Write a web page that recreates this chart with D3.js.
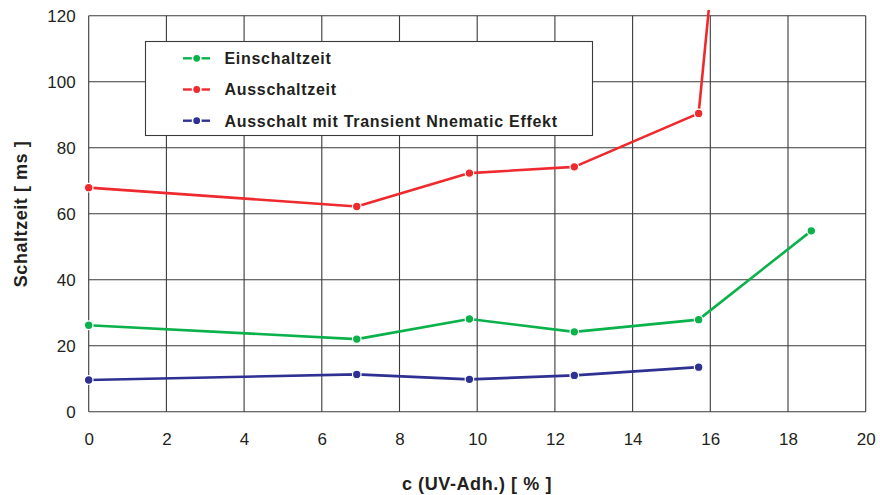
<!DOCTYPE html>
<html>
<head>
<meta charset="utf-8">
<script src="https://cdn.jsdelivr.net/npm/d3@7"></script>
<style>
  html, body { margin: 0; padding: 0; background: #fff; }
  svg { display: block; font-family: "Liberation Sans", Arial, sans-serif; }
</style>
</head>
<body>
<svg id="chart" width="880" height="495"></svg>
<script>
// Concentration of UV adhesive [%]
const concEin = [0, 6.9, 9.8, 12.5, 15.7, 18.6];
const einschaltzeit = [26.2, 22.0, 28.1, 24.2, 27.9, 54.8];

const concAus = [0, 6.9, 9.8, 12.5, 15.7, 18.6];
const ausschaltzeit = [67.9, 62.2, 72.3, 74.2, 90.4, 440];

const concTN = [0, 6.9, 9.8, 12.5, 15.7];
const ausschaltTN = [9.6, 11.3, 9.8, 11.0, 13.5];

const xTicks = [0, 2, 4, 6, 8, 10, 12, 14, 16, 18, 20];
const yTicks = [0, 20, 40, 60, 80, 100, 120];

const seriesNames = ["Einschaltzeit", "Ausschaltzeit", "Ausschalt mit Transient Nnematic Effekt"];
const seriesColors = ["#0bb14b", "#ee2a2e", "#2e3192"];

const series = [
  { name: seriesNames[0], color: seriesColors[0], xs: concEin, ys: einschaltzeit, markerCount: 6 },
  { name: seriesNames[1], color: seriesColors[1], xs: concAus, ys: ausschaltzeit, markerCount: 5 },
  { name: seriesNames[2], color: seriesColors[2], xs: concTN, ys: ausschaltTN, markerCount: 5 }
];

const svg = d3.select("#chart");
const plotLeft = 88.7, plotRight = 865.7, plotTop = 15.7, plotBottom = 411.7;

const x = d3.scaleLinear().domain([0, 20]).range([plotLeft, plotRight]);
const y = d3.scaleLinear().domain([0, 120]).range([plotBottom, plotTop]);

const textColor = "#231f20";
const gridColor = "#3a3a3a";

// grid
const grid = svg.append("g");
grid.selectAll("line.v").data(xTicks).join("line")
  .attr("x1", d => x(d)).attr("x2", d => x(d))
  .attr("y1", plotTop).attr("y2", plotBottom)
  .attr("stroke", gridColor).attr("stroke-width", 1.1);
grid.selectAll("line.h").data(yTicks).join("line")
  .attr("x1", plotLeft).attr("x2", plotRight)
  .attr("y1", d => y(d)).attr("y2", d => y(d))
  .attr("stroke", gridColor).attr("stroke-width", 1.1);

// axes (labels only; grid provides the lines)
const xAxis = d3.axisBottom(x).tickValues(xTicks).tickSize(0).tickPadding(21).tickFormat(d3.format("d"));
const gx = svg.append("g").attr("transform", `translate(0,${plotBottom})`).call(xAxis);
gx.select(".domain").remove();
gx.selectAll("text").attr("font-size", 17).attr("fill", textColor).attr("font-family", "Liberation Sans, Arial, sans-serif");

const yAxis = d3.axisLeft(y).tickValues(yTicks).tickSize(0).tickPadding(13).tickFormat(d3.format("d"));
const gy = svg.append("g").attr("transform", `translate(${plotLeft},0)`).call(yAxis);
gy.select(".domain").remove();
gy.selectAll("text").attr("font-size", 17).attr("fill", textColor).attr("font-family", "Liberation Sans, Arial, sans-serif");

// axis titles
svg.append("text")
  .attr("x", 477).attr("y", 490)
  .attr("text-anchor", "middle")
  .attr("font-size", 18).attr("font-weight", "bold").attr("fill", textColor)
  .attr("letter-spacing", 0.6)
  .text("c (UV-Adh.) [ % ]");

svg.append("text")
  .attr("transform", "translate(27,214) rotate(-90)")
  .attr("text-anchor", "middle")
  .attr("font-size", 18).attr("font-weight", "bold").attr("fill", textColor)
  .attr("letter-spacing", 0.55)
  .text("Schaltzeit [ ms ]");

// clip lines slightly above the plot top (steep segment runs off scale)
svg.append("clipPath").attr("id", "plotclip")
  .append("rect").attr("x", plotLeft - 6).attr("y", 10)
  .attr("width", plotRight - plotLeft + 12).attr("height", plotBottom - 10 + 6);

const lineGen = d3.line().x(d => x(d[0])).y(d => y(d[1]));
const plot = svg.append("g").attr("clip-path", "url(#plotclip)");

series.forEach(s => {
  const pts = s.xs.map((v, i) => [v, s.ys[i]]);
  plot.append("path")
    .datum(pts)
    .attr("d", lineGen)
    .attr("fill", "none")
    .attr("stroke", s.color)
    .attr("stroke-width", 2.6)
    .attr("stroke-linejoin", "round");
  plot.selectAll(null).data(pts.slice(0, s.markerCount)).join("circle")
    .attr("cx", d => x(d[0])).attr("cy", d => y(d[1]))
    .attr("r", 4.3)
    .attr("fill", s.color)
    .attr("stroke", "#fff").attr("stroke-width", 1.2);
});

// legend
const lg = svg.append("g");
lg.append("rect")
  .attr("x", 145.5).attr("y", 41.5).attr("width", 447).attr("height", 94)
  .attr("fill", "#fff").attr("stroke", "#3a3a3a").attr("stroke-width", 1.1);

const rowY = [58.3, 89.5, 120.7];
series.forEach((s, i) => {
  const g = lg.append("g").attr("transform", `translate(0,${rowY[i]})`);
  g.append("line").attr("x1", 183).attr("x2", 210).attr("y1", 0).attr("y2", 0)
    .attr("stroke", s.color).attr("stroke-width", 2.4);
  g.append("circle").attr("cx", 196.7).attr("cy", 0).attr("r", 4.2)
    .attr("fill", s.color).attr("stroke", "#fff").attr("stroke-width", 1.6);
  g.append("text").attr("x", 224.5).attr("y", 5.8)
    .attr("font-size", 16).attr("font-weight", "bold").attr("fill", textColor)
    .attr("letter-spacing", 0.7)
    .text(s.name);
});
</script>
</body>
</html>
